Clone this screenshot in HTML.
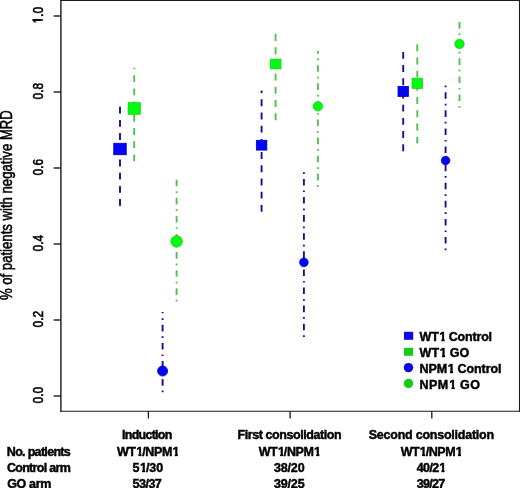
<!DOCTYPE html>
<html><head><meta charset="utf-8"><style>
html,body{margin:0;padding:0;background:#fff;}
svg{display:block;}
text{font-family:"Liberation Sans",sans-serif;}
.gs{filter:grayscale(1);}
.b{font-weight:bold;font-size:12.5px;fill:#000;stroke:#000;stroke-width:0.45px;}
.h{fill:transparent;stroke:transparent;}
.t{font-size:15.2px;fill:#000;stroke:#000;stroke-width:0.6px;}
</style></head><body>
<svg width="520" height="488" viewBox="0 0 520 488">
<rect width="520" height="488" fill="#fff"/>
<g stroke="#1a1a1a" stroke-width="1.4" fill="none">
<path d="M60.9 0V411.8"/>
<path d="M60.2 0.5H520" stroke-width="1.1"/>
<path d="M519.5 0V411.8" stroke-width="1.1"/>
<path d="M60.2 411.3H520" stroke-width="1.1"/>
<path d="M148.4 411V418.6M290.1 411V418.6M431.8 411V418.6" stroke-width="1.3"/>
<path d="M53.6 396H61"/><path d="M53.6 320H61"/><path d="M53.6 244H61"/><path d="M53.6 168H61"/><path d="M53.6 92H61"/><path d="M53.6 16H61"/>
</g>
<g class="t gs">
<text transform="translate(43.2 395.20) rotate(-90)" text-anchor="middle" textLength="16.60" lengthAdjust="spacingAndGlyphs">0.0</text><text transform="translate(43.2 319.20) rotate(-90)" text-anchor="middle" textLength="16.60" lengthAdjust="spacingAndGlyphs">0.2</text><text transform="translate(43.2 243.20) rotate(-90)" text-anchor="middle" textLength="16.60" lengthAdjust="spacingAndGlyphs">0.4</text><text transform="translate(43.2 167.20) rotate(-90)" text-anchor="middle" textLength="16.60" lengthAdjust="spacingAndGlyphs">0.6</text><text transform="translate(43.2 91.20) rotate(-90)" text-anchor="middle" textLength="16.60" lengthAdjust="spacingAndGlyphs">0.8</text><text transform="translate(43.2 15.20) rotate(-90)" text-anchor="middle" textLength="16.60" lengthAdjust="spacingAndGlyphs">1.0</text>
</g>
<rect x="40.6" y="16.6" width="4" height="7" fill="#fff"/>
<path d="M32.4 20H42.9" stroke="#000" stroke-width="1.6"/>
<text class="gs" transform="translate(11.5 205.15) rotate(-90)" text-anchor="middle" font-size="16px" fill="#000" stroke="#000" stroke-width="0.55" textLength="189.90" lengthAdjust="spacingAndGlyphs">% of patients with negative MRD</text>
<g>
<path d="M120.0 206.0V105.7" stroke="#1c0c9c" stroke-width="1.9" stroke-dasharray="6.9 6.3" fill="none"/><path d="M134.2 161.3V67.8" stroke="#50c050" stroke-width="1.9" stroke-dasharray="6.9 6.3" fill="none"/><path d="M162.6 392.3V312.0" stroke="#1c0c9c" stroke-width="1.9" stroke-dasharray="1.7 4.9 6.6 4.9" fill="none"/><path d="M176.6 301.5V178.5" stroke="#50c050" stroke-width="1.9" stroke-dasharray="1.7 4.9 6.6 4.9" fill="none"/><path d="M261.6 211.8V90.5" stroke="#1c0c9c" stroke-width="1.9" stroke-dasharray="6.9 6.3" fill="none"/><path d="M275.6 120.2V33.5" stroke="#50c050" stroke-width="1.9" stroke-dasharray="6.9 6.3" fill="none"/><path d="M303.9 336.9V171.3" stroke="#1c0c9c" stroke-width="1.9" stroke-dasharray="1.7 4.9 6.6 4.9" fill="none"/><path d="M317.9 187.0V51.0" stroke="#50c050" stroke-width="1.9" stroke-dasharray="1.7 4.9 6.6 4.9" fill="none"/><path d="M403.2 151.2V51.0" stroke="#1c0c9c" stroke-width="1.9" stroke-dasharray="6.9 6.3" fill="none"/><path d="M417.3 143.6V43.5" stroke="#50c050" stroke-width="1.9" stroke-dasharray="6.9 6.3" fill="none"/><path d="M445.6 250.2V84.5" stroke="#1c0c9c" stroke-width="1.9" stroke-dasharray="1.7 4.9 6.6 4.9" fill="none"/><path d="M459.5 107.7V21.0" stroke="#50c050" stroke-width="1.9" stroke-dasharray="1.7 4.9 6.6 4.9" fill="none"/>
</g>
<g>
<rect x="113.75" y="143.25" width="12.50" height="11.50" fill="#0204f8" stroke="#0000c0" stroke-width="0.8"/><rect x="128.10" y="102.70" width="12.20" height="11.60" fill="#02fc10" stroke="#18cc18" stroke-width="0.8"/><ellipse cx="162.6" cy="371.0" rx="5.05" ry="5.05" fill="#0204f8" stroke="#0000c0" stroke-width="0.8"/><ellipse cx="176.6" cy="241.4" rx="5.75" ry="5.75" fill="#02fc10" stroke="#18cc18" stroke-width="0.8"/><rect x="256.35" y="140.30" width="10.50" height="9.80" fill="#0204f8" stroke="#0000c0" stroke-width="0.8"/><rect x="270.25" y="59.15" width="10.70" height="9.70" fill="#02fc10" stroke="#18cc18" stroke-width="0.8"/><ellipse cx="303.9" cy="262.4" rx="4.30" ry="4.30" fill="#0204f8" stroke="#0000c0" stroke-width="0.8"/><ellipse cx="317.9" cy="106.3" rx="4.70" ry="4.70" fill="#02fc10" stroke="#18cc18" stroke-width="0.8"/><rect x="398.00" y="86.35" width="10.40" height="10.10" fill="#0204f8" stroke="#0000c0" stroke-width="0.8"/><rect x="412.05" y="78.25" width="10.50" height="10.10" fill="#02fc10" stroke="#18cc18" stroke-width="0.8"/><ellipse cx="445.6" cy="160.5" rx="4.25" ry="4.25" fill="#0204f8" stroke="#0000c0" stroke-width="0.8"/><ellipse cx="459.5" cy="43.9" rx="4.70" ry="4.70" fill="#02fc10" stroke="#18cc18" stroke-width="0.8"/>
</g>
<rect x="404" y="331.8" width="9.2" height="8" fill="#0808e8"/>
<rect x="404" y="347.8" width="9.2" height="8" fill="#14cc14"/>
<circle cx="408.5" cy="367.6" r="4.7" fill="#0808e8"/>
<circle cx="408.5" cy="383.4" r="4.7" fill="#14cc14"/>
<defs><clipPath id="nf"><rect x="-1.5" y="-12" width="10" height="9.4"/><rect x="2.2" y="-2.7" width="3.1" height="3.4"/></clipPath></defs>
<g class="b gs">
<text id="t_np" x="6.80" y="455.9" textLength="64.00" lengthAdjust="spacing">No. patients</text><text id="t_ca" x="6.90" y="472.0" textLength="63.90" lengthAdjust="spacing">Control arm</text><text id="t_go" x="7.20" y="488.0" textLength="44.10" lengthAdjust="spacing">GO arm</text><text id="t_ind" x="122.00" y="439.4" textLength="50.40" lengthAdjust="spacing">Induction</text><text id="t_w1" x="116.90" y="455.9" textLength="62.00" lengthAdjust="spacing">WT<tspan class="h">1</tspan>/NPM<tspan class="h">1</tspan></text><text id="t_c1" x="132.50" y="472.0" textLength="30.60" lengthAdjust="spacing">5<tspan class="h">1</tspan>/30</text><text id="t_g1" x="132.50" y="488.0" textLength="29.30" lengthAdjust="spacing">53/37</text><text id="t_fc" x="237.50" y="439.4" textLength="104.20" lengthAdjust="spacing">First consolidation</text><text id="t_w2" x="258.70" y="455.9" textLength="61.70" lengthAdjust="spacing">WT<tspan class="h">1</tspan>/NPM<tspan class="h">1</tspan></text><text id="t_c2" x="274.00" y="472.0" textLength="30.60" lengthAdjust="spacing">38/20</text><text id="t_g2" x="274.00" y="488.0" textLength="30.60" lengthAdjust="spacing">39/25</text><text id="t_sc" x="368.70" y="439.4" textLength="125.40" lengthAdjust="spacing">Second consolidation</text><text id="t_w3" x="400.70" y="455.9" textLength="61.40" lengthAdjust="spacing">WT<tspan class="h">1</tspan>/NPM<tspan class="h">1</tspan></text><text id="t_c3" x="416.70" y="472.0" textLength="28.90" lengthAdjust="spacing">40/2<tspan class="h">1</tspan></text><text id="t_g3" x="416.70" y="488.0" textLength="28.40" lengthAdjust="spacing">39/27</text><text id="t_l1" x="419.60" y="341.3" textLength="72.50" lengthAdjust="spacing">WT<tspan class="h">1</tspan> Control</text><text id="t_l2" x="419.60" y="357.0" textLength="49.70" lengthAdjust="spacing">WT<tspan class="h">1</tspan> GO</text><text id="t_l3" x="419.60" y="373.0" textLength="82.00" lengthAdjust="spacing">NPM<tspan class="h">1</tspan> Control</text><text id="t_l4" x="419.60" y="388.8" textLength="60.40" lengthAdjust="spacing">NPM<tspan class="h">1</tspan> GO</text>
<g transform="translate(136.20 455.90)"><text x="0" y="0" clip-path="url(#nf)">1</text></g><g transform="translate(172.55 455.90)"><text x="0" y="0" clip-path="url(#nf)">1</text></g><g transform="translate(139.88 472.00)"><text x="0" y="0" clip-path="url(#nf)">1</text></g><g transform="translate(277.91 455.90)"><text x="0" y="0" clip-path="url(#nf)">1</text></g><g transform="translate(314.05 455.90)"><text x="0" y="0" clip-path="url(#nf)">1</text></g><g transform="translate(419.83 455.90)"><text x="0" y="0" clip-path="url(#nf)">1</text></g><g transform="translate(455.75 455.90)"><text x="0" y="0" clip-path="url(#nf)">1</text></g><g transform="translate(439.25 472.00)"><text x="0" y="0" clip-path="url(#nf)">1</text></g><g transform="translate(439.28 341.30)"><text x="0" y="0" clip-path="url(#nf)">1</text></g><g transform="translate(439.79 357.00)"><text x="0" y="0" clip-path="url(#nf)">1</text></g><g transform="translate(447.80 373.00)"><text x="0" y="0" clip-path="url(#nf)">1</text></g><g transform="translate(449.35 388.80)"><text x="0" y="0" clip-path="url(#nf)">1</text></g>
</g>
</svg>
</body></html>
